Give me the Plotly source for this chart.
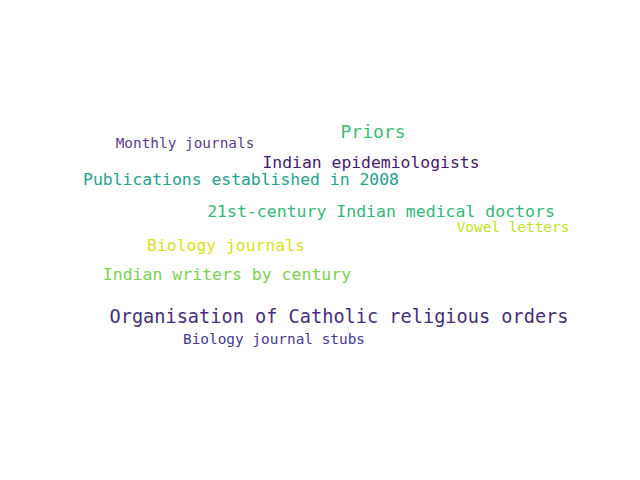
import plotly.graph_objects as go

# word cloud terms, centre positions (pixels), sizes and colours
words = ["Priors", "Monthly journals", "Indian epidemiologists",
         "Publications established in 2008", "21st-century Indian medical doctors",
         "Vowel letters", "Biology journals", "Indian writers by century",
         "Organisation of Catholic religious orders", "Biology journal stubs"]
x = [365, 177, 363, 233, 373, 505, 218, 219, 331, 266]
y = [125, 136, 156, 173, 205, 220, 239, 268, 310, 332]
sizes = [18, 14.4, 16.4, 16.4, 16.5, 14.4, 16.4, 16.5, 18.6, 14.4]
colors = ["#3dbc74", "#5a3d8c", "#481a6c", "#25a18e", "#35b779", "#c2df23",
          "#d8e219", "#7ad151", "#472d7b", "#46398a"]

fig = go.Figure()
for w, xi, yi, s, c in zip(words, x, y, sizes, colors):
    fig.add_trace(go.Scatter(
        x=[xi], y=[yi], mode="text", text=[w],
        textfont=dict(family="DejaVu Sans Mono", size=s, color=c),
        showlegend=False, hoverinfo="skip"))

fig.update_layout(
    width=640, height=480,
    margin=dict(l=0, r=0, t=0, b=0),
    paper_bgcolor="white", plot_bgcolor="white",
    xaxis=dict(range=[0, 640], visible=False),
    yaxis=dict(range=[480, 0], visible=False),
)
fig.write_html("out.html")
